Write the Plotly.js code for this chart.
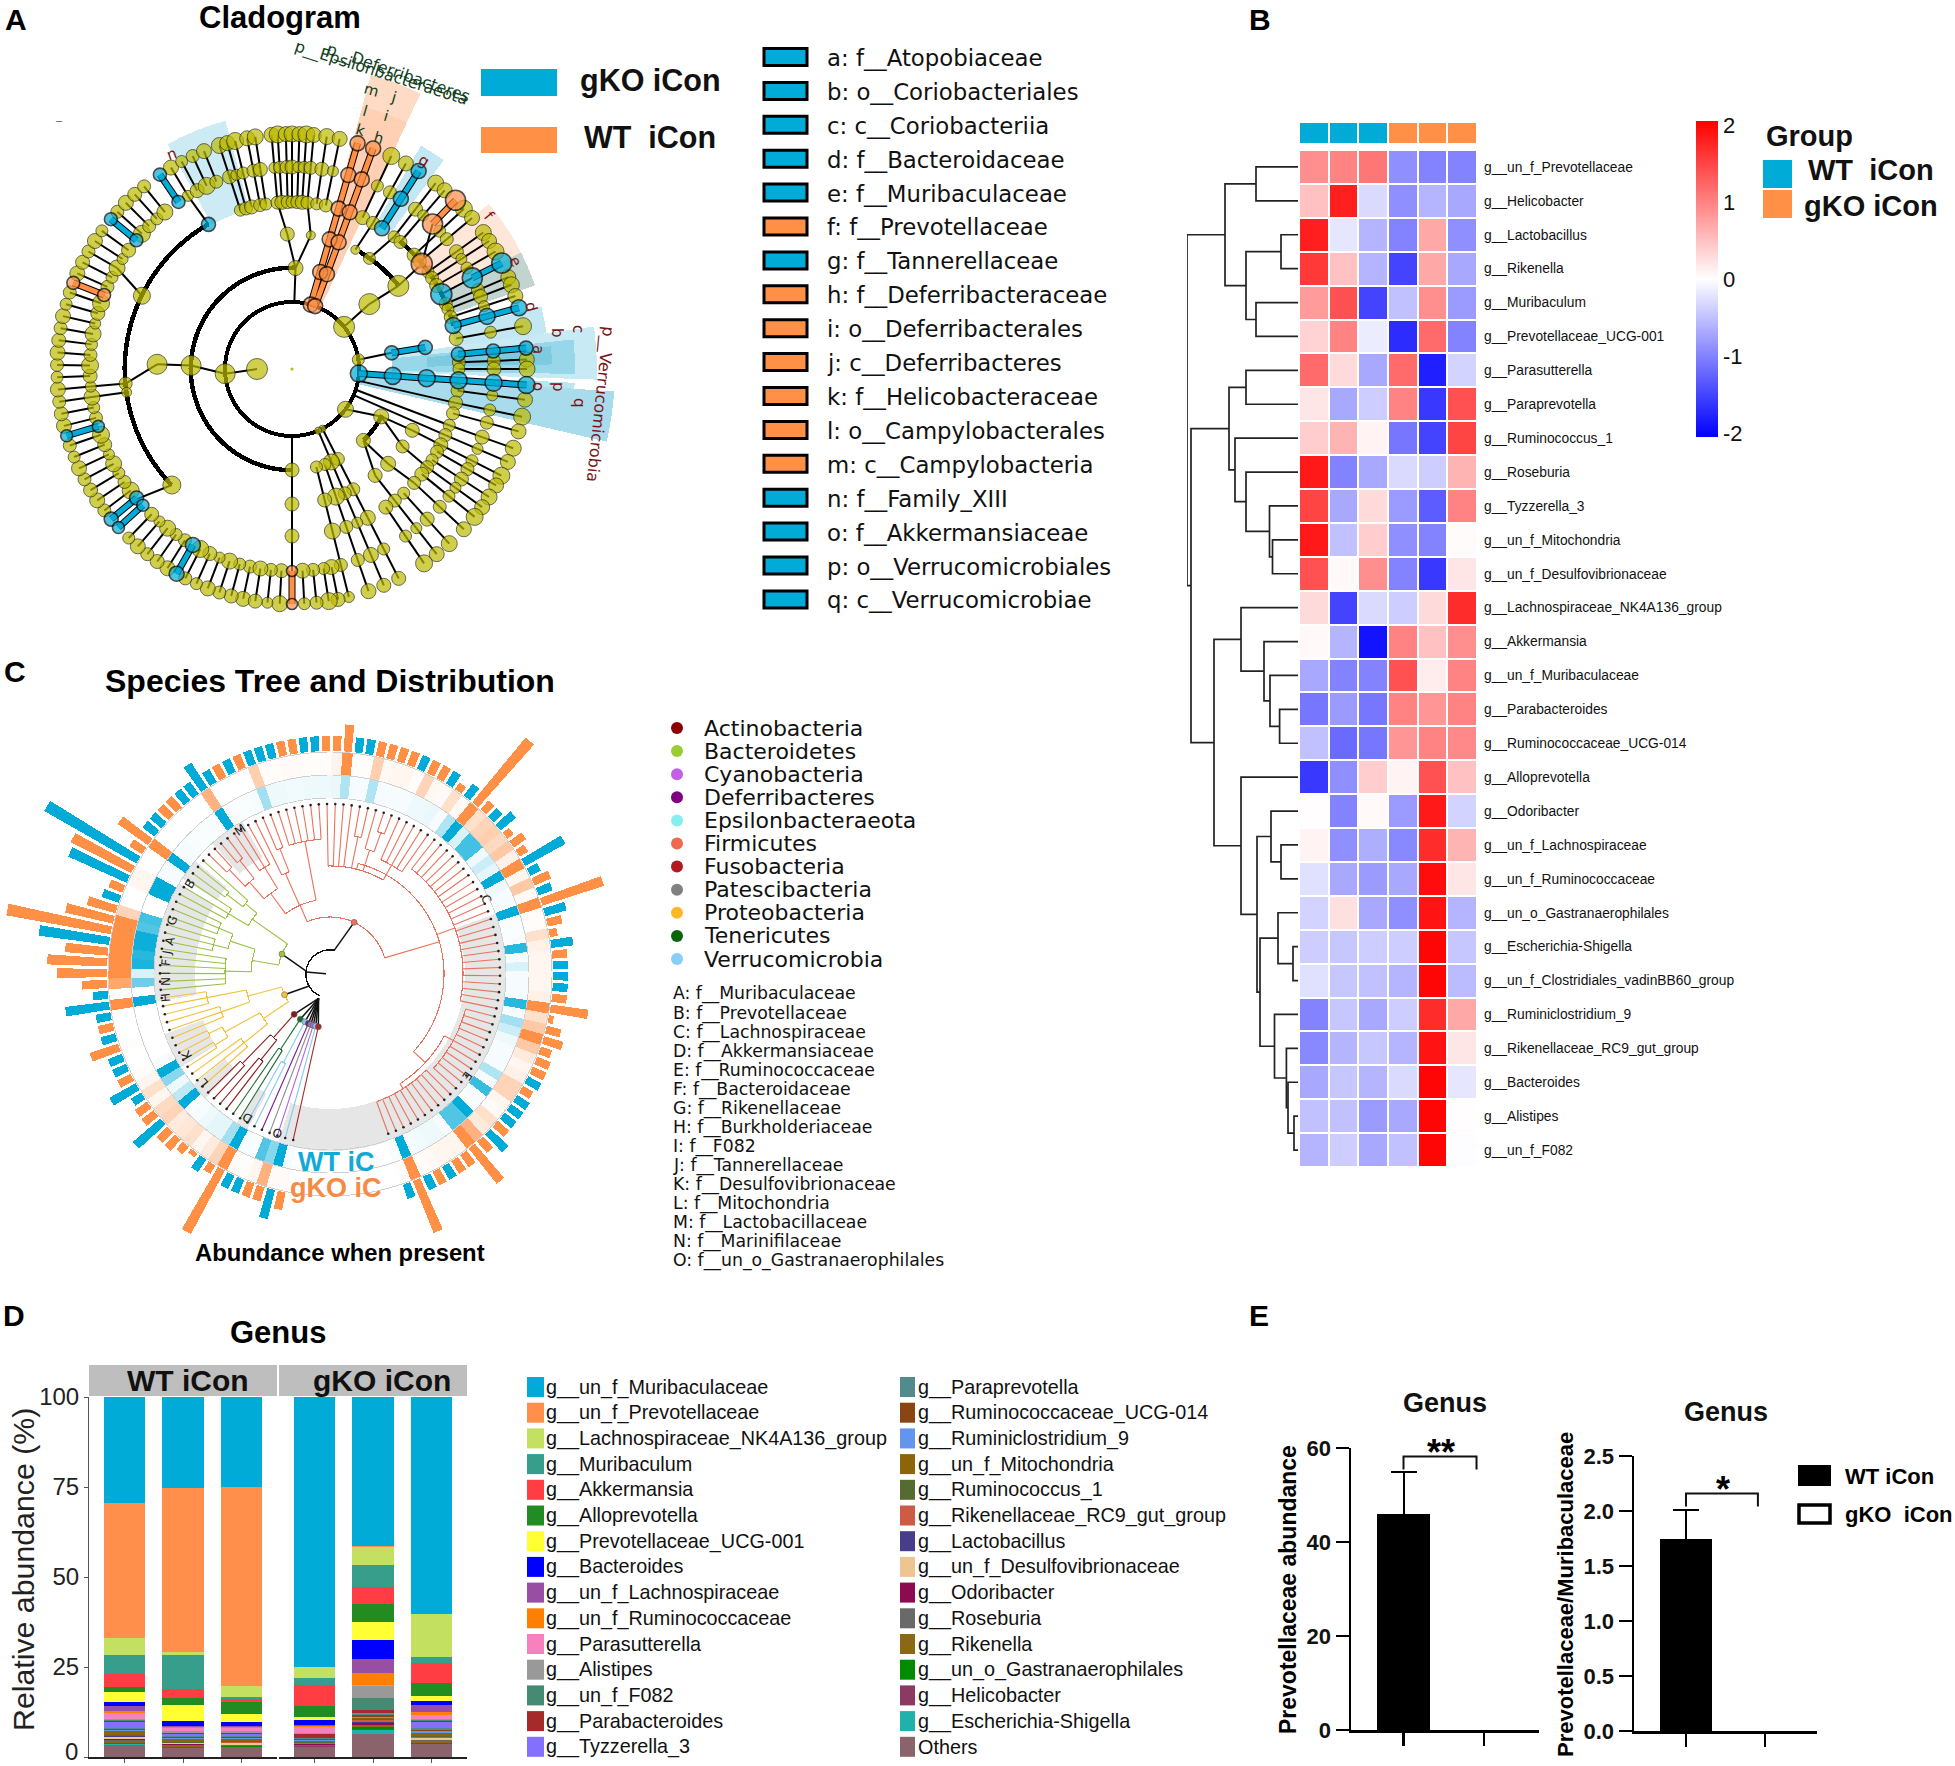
<!DOCTYPE html>
<html><head><meta charset="utf-8">
<script src="https://cdn.plot.ly/plotly-3.0.1.min.js"></script>
<style>html,body{margin:0;padding:0;background:#fff}</style></head>
<body><div id="chart" style="width:1955px;height:1766px"></div>
<script>
const W=1955,H=1766;
const BLUE='#00ABD8',ORANGE='#FF9046',OLIVE='#BDBB00';

/* ---------- Panel A: cladogram ---------- */
const cladoLevels=[35,67,101,135,167,202,235];
const cladoSizePalette=[13,15,12,14,16,13,11,15,14,12,17,13];
const cladoLeftThetas=[192,195,198,201,204,207,212,215,218,221,224,233,236,239,242,245,248,251,256,259,262,265,268,271,274,277,280,283,286,289,294,297,300,303,306,312,315,318,321,329,332,335,338];
const cladoTopThetas=[342,344,346,349,351,355,356.5,358.5,360,361.8,363.5,365.3,368.5,371.7];
const cladoRightThetas=[25,29,37.7,40.5,47,50,54.5,57,60,67,69,71.9,79.5,87.7,90,97.5];
const cladoLowerThetas=[101.7,105.4,109.7,113.3,117,119.7,123,126,129,133,138,142,145.8];
const cladoFanThetas=[153,157,161,166];
const cladoBottomThetas=[168.7,171,174,177,183,186,189];
/* theta, from level, to level, size, group (B blue / O orange) */
const cladoMarked=[[325.8,5,6,13,'B'],[309.6,5,6,13,'B'],[291.5,5,6,13,'O'],[253.5,5,6,12,'B'],[230.3,5,6,14,'B'],[227.6,5,6,12,'B'],[209.4,5,6,15,'B'],[180,5,6,11,'O'],[16.2,1,6,15,'O'],[20.2,1,6,15,'O'],[32.6,4,6,15,'B'],[44.1,5,6,20,'O'],[63.2,5,6,20,'B'],[74.9,4,6,16,'B'],[80.8,2,3,14,'B'],[84.9,4,6,14,'B'],[93.9,1,6,17,'B']];
const cladoMarkedSingles=[[51,4,21,'O'],[63.4,4,21,'B'],[330,4,14,'B']];
/* theta, level, size */
const cladoKeyNodes=[[270,0,21],[266,1,20],[272,2,20],[272,3,20],[265,4,13],[262,4,10],[296,4,17],[226,4,18],[2,2,15],[358,3,14],[8,3,9],[180,2,14],[180,3,14],[180,4,14],[51,1,21],[50,2,21],[52,3,21],[82,1,12],[127,1,16],[153,1,7],[157,1,7],[118,2,15],[135,2,14],[117,3,14],[125,3,13],[134.6,3,15],[142,3,14],[35,3,12],[28,3,9]];
/* theta a, level a, theta b, level b */
const cladoKeyEdges=[[270,0,266,1],[266,1,272,2],[272,2,272,3],[272,3,265,4],[265,4,265,5],[262,4,262,5],[296,4,300,5],[226,4,230,5],[330,4,329,5],[2,1,2,2],[2,2,358,3],[2,2,8,3],[358,3,355,4],[8,3,5.3,4],[180,1,180,2],[180,2,180,3],[180,3,180,4],[180,4,180,5],[51,1,50,2],[50,2,52,3],[52,3,51,4],[51,4,44.1,5],[63.4,4,63.2,5],[82,1,80.8,2],[127,1,118,2],[118,2,117,3],[118,2,125,3],[135,2,134.6,3],[135,2,142,3],[117,3,117,4],[125,3,126,4],[134.6,3,133,4],[142,3,142,4],[153,1,153,2],[157,1,157,2],[35,3,37.7,4],[28,3,29,4],[100,1,101.7,4],[108,1,109.7,4],[113,1,113.3,4]];
/* radius base, thickness, theta start, theta end */
const cladoArcs=[[65,4,0.1,360],[99,4.5,180,362],[165,4.5,226,330],[99,4.5,117,135],[133,4.5,30,52],[165,4.5,40,75]];
/* theta start, theta end, r base, r top, colour */
const cladoSectors=[[331,345,165,257,'rgba(170,222,238,.6)'],[15,25,65,304,'rgba(255,190,150,.55)'],[15,25,65,272,'rgba(255,190,150,.35)'],[30,36,170,258,'rgba(170,222,238,.7)'],[50,71,169,257,'rgba(253,220,200,.7)'],[63,71,165,257,'rgba(120,190,200,.45)'],[76,82,165,257,'rgba(170,222,238,.7)'],[82,92,100,305,'rgba(170,222,238,.65)'],[84,91,100,283,'rgba(120,200,225,.6)'],[85,89,135,260,'rgba(100,190,215,.5)'],[94,103,67,323,'rgba(110,195,222,.6)'],[92.8,94.6,150,283,'rgba(170,222,238,.8)']];

/* ---------- Panel A legend ---------- */
const cladoLegendText=['a: f__Atopobiaceae','b: o__Coriobacteriales','c: c__Coriobacteriia','d: f__Bacteroidaceae','e: f__Muribaculaceae','f: f__Prevotellaceae','g: f__Tannerellaceae','h: f__Deferribacteraceae','i: o__Deferribacterales','j: c__Deferribacteres','k: f__Helicobacteraceae','l: o__Campylobacterales','m: c__Campylobacteria','n: f__Family_XIII','o: f__Akkermansiaceae','p: o__Verrucomicrobiales','q: c__Verrucomicrobiae'];
const cladoLegendGroup=['B','B','B','B','B','O','B','O','O','O','O','O','O','B','B','B','B'];

/* ---------- Panel B: heatmap ---------- */
const hmLabels=['g__un_f_Prevotellaceae','g__Helicobacter','g__Lactobacillus','g__Rikenella','g__Muribaculum','g__Prevotellaceae_UCG-001','g__Parasutterella','g__Paraprevotella','g__Ruminococcus_1','g__Roseburia','g__Tyzzerella_3','g__un_f_Mitochondria','g__un_f_Desulfovibrionaceae','g__Lachnospiraceae_NK4A136_group','g__Akkermansia','g__un_f_Muribaculaceae','g__Parabacteroides','g__Ruminococcaceae_UCG-014','g__Alloprevotella','g__Odoribacter','g__un_f_Lachnospiraceae','g__un_f_Ruminococcaceae','g__un_o_Gastranaerophilales','g__Escherichia-Shigella','g__un_f_Clostridiales_vadinBB60_group','g__Ruminiclostridium_9','g__Rikenellaceae_RC9_gut_group','g__Bacteroides','g__Alistipes','g__un_f_F082'];
const hmValues=[
[0.9,1.0,1.1,-0.9,-1.0,-1.0],[0.5,1.8,-0.3,-0.9,-0.6,-0.7],[1.8,-0.2,-0.6,-1.0,0.7,-0.9],[1.6,0.5,-0.6,-1.5,0.7,-0.7],[0.8,1.4,-1.5,-0.5,0.9,-0.8],[0.35,1.0,-0.15,-1.7,1.2,-1.0],
[1.2,0.3,-0.7,1.2,-1.8,-0.35],[0.2,-0.7,-0.4,1.0,-1.6,1.4],[0.4,0.6,0.1,-1.1,-1.5,1.5],[1.85,-1.0,-0.7,-0.3,-0.4,0.6],[1.5,-0.7,0.3,-0.8,-1.3,1.0],[1.85,-0.5,0.4,-0.9,-1.0,0.03],
[1.4,0.05,0.9,-1.0,-1.6,0.2],[0.3,-1.5,-0.3,-0.4,0.3,1.7],[0.05,-0.6,-1.9,1.0,0.5,0.9],[-0.7,-1.0,-1.0,1.4,0.15,1.0],[-1.1,-0.8,-1.1,1.0,0.85,1.0],[-0.5,-1.2,-1.1,0.85,1.0,0.95],
[-1.6,-0.9,0.4,0.1,1.4,0.5],[0.02,-1.0,0.05,-0.8,1.85,-0.35],[0.1,-0.9,-0.65,-0.95,1.7,0.6],[-0.25,-0.7,-0.8,-0.7,1.95,0.2],[-0.35,0.25,-0.7,-0.9,1.9,-0.6],[-0.4,-0.45,-0.4,-0.4,2,-0.45],
[-0.25,-0.45,-0.5,-0.6,2,-0.55],[-1,-0.45,-0.7,-0.4,1.7,0.7],[-0.95,-0.6,-0.45,-0.6,1.9,0.2],[-0.7,-0.45,-0.6,-0.3,2,-0.2],[-0.5,-0.5,-0.8,-0.7,2,0.02],[-0.6,-0.4,-0.7,-0.5,2,-0.02]];
const hmGroupRow=[0,0,0,1,1,1];
/* dendrogram: [height, child, child]; numbers are row indices */
const dendroTree=[112,
 [74,[43,0,1],[53,[18,2,3],[43,4,5]]],
 [108,
  [70,[53,6,7],[64,8,[53,9,[29.5,10,[26.5,11,12]]]]],
  [85,
   [58,13,[35,14,[29,15,[19.4,16,17]]]],
   [58,18,[42,[28,19,[18,20,21]],[39,[21,22,[6,23,24]],[24.5,25,[12.6,26,[11,27,[5,28,29]]]]]]]]]];

/* ---------- Panel C: species tree ---------- */
const treeBarGroup='OBOOBBOOBOOOOBOOBBOBBOBOBBBOOOOBOOOBOBOBOOBBOOBBBBOBOBBBOOBBOOOBBOOOOBOOBOBOOBBOOOBBOBOBOOBOBBBOOOOOOOOBOBBBOBOOOOBOBOB';
const treeBarLen=[18,30,15,15,15,15,72,10,15,5,10,15,15,36,15,15,12,30,15,15,15,30,15,15,15,44,15,25,50,60,43,71,106,49,30,18,15,64,68,106,15,37,15,15,15,15,15,15,30,15,15,15,15,15,15,15,15,15,15,15,15,15,27,15,15,15,15,15,15,15,15,15,15,8,15,84,12,12,20,8,15,10,46,12,18,15,65,22,15,8,22,15,15,15,15,15,38,5,15,20,12,15,15,15,12,15,15,15,15,25,15,45,15,15,15,15,15,56,15];
const treeHeatWT=[.05,1,.5,.7,.03,.05,1,.4,.15,.15,.1,.05,.03,1,.3,.1,.5,1,.05,0,0,0,0,0,0,1,0,.6,.2,.9,.85,.95,.95,.7,.75,0,0,1,1,.05,.05,1,.05,.05,.03,.03,.03,.03,1,.03,.03,.03,.05,.4,.1,.1,.08,.08,.1,.1,.1,.12,.35,.05,.05,.35,.05,.05,.05,.05,.1,.1,.12,.05,.35,1,.2,.75,.75,.1,.25,.15,1,.1,.05,.05,1,.03,.03,.03,.85,.05,.2,.05,.05,.05,.85,.05,.4,.25,.1,.05,.05,.05,.35,.05,.8,.05,.03,1,.7,.7,.05,.1,.1,.08,.05,1,.05];
const treeHeatKO=[.05,.05,.7,.1,.02,.03,1,.4,.2,.1,.3,.25,.2,.4,.35,.1,.3,.1,.03,0,0,.02,0,0,0,1,0,.8,1,1,1,1,1,1,.4,0,0,.1,.1,0,0,1,0,0,0,0,0,0,.7,0,0,0,0,.45,.03,.03,.05,.05,.03,.03,.03,.12,1,.02,.02,.45,.08,.1,.1,.02,.4,.08,.05,.3,.05,1,.3,.4,.45,.35,.5,.15,1,.1,.5,.05,1,.03,.03,.3,.15,.1,.1,.1,.1,.15,1,.3,.5,1,.5,.2,.1,.15,.4,.4,.1,.05,.3,.2,.7,1,.1,.1,.1,.05,.03,1,.03];
const treeGreyBands=[[70,197],[208,212],[225,231],[238,250],[261,301],[303,310],[318,330]];
const treeLetters=[['M',240,830,-35],['B',190,884,-60],['G',172,921,-70],['A',170,941,-75],['J',167,953,-80],['F',166,963,-85],['I',166,973,-90],['N',166,982,-90],['H',166,998,-95],['K',187,1055,-120],['L',204,1083,-130],['D',248,1118,-150],['O',278,1133,-165],['C',486,899,65],['E',467,1076,125]];
const rg=(a,b)=>{const o=[];for(let i=a;i<=b;i++)o.push(i);return o;};
const phyla=[
 {name:'Firmicutes',color:'#E8735E',rootTheta:10,tree:[57,
   [75,[100,[122,[145,44,45],[145,46,47]],[125,48,49,50]],[110,51,[135,52,53]],[135,...rg(54,59)]],
   [114,[108,60,61,62,63,[140,64,65],[130,66,[150,67,68]],[125,...rg(69,73)]],[133,...rg(74,97)],[130,[140,...rg(98,108)],[136,...rg(109,118)]]]]},
 {name:'Bacteroidetes',color:'#9BC243',rootTheta:277,tree:[52,[79,[105,...rg(26,31)],[105,[120,32,33,34],[120,35,36,37]]],[95,[118,38,39,40],[110,[130,41,42],43]]]},
 {name:'Proteobacteria',color:'#F2C23A',rootTheta:240,tree:[50,[80,[110,13,14,15],[120,[135,16,17],[135,18,19]]],[85,[115,20,21,22],[125,23,24,25]]]},
 {name:'Actinobacteria',color:'#8B1A1A',rootTheta:219,tree:[54,[85,[110,9,10],[125,11,12]]]},
 {name:'Tenericutes',color:'#1E6B2D',rootTheta:212,tree:[54,[90,7,8]]},
 {name:'Epsilonbacteraeota',color:'#83C8EE',rootTheta:207,tree:[54,[100,5,6]]},
 {name:'Deferribacteres',color:'#7A1F8E',rootTheta:204,tree:[54,4]},
 {name:'Patescibacteria',color:'#8A8A8A',rootTheta:200,tree:[54,3]},
 {name:'Cyanobacteria',color:'#B060E0',rootTheta:197,tree:[54,2]},
 {name:'Verrucomicrobia',color:'#83C8EE',rootTheta:194,tree:[54,1]},
 {name:'Fusobacteria',color:'#A52A2A',rootTheta:190,tree:[54,0]}];
const legendPhyla=[['Actinobacteria','#8B0000'],['Bacteroidetes','#9ACD32'],['Cyanobacteria','#C45FE8'],['Deferribacteres','#800080'],['Epsilonbacteraeota','#87EEEE'],['Firmicutes','#F0694E'],['Fusobacteria','#B2181E'],['Patescibacteria','#808080'],['Proteobacteria','#FDB827'],['Tenericutes','#0B640B'],['Verrucomicrobia','#87CEFA']];
const legendFamilies=['A: f__Muribaculaceae','B: f__Prevotellaceae','C: f__Lachnospiraceae','D: f__Akkermansiaceae','E: f__Ruminococcaceae','F: f__Bacteroidaceae','G: f__Rikenellaceae','H: f__Burkholderiaceae','I: f__F082','J: f__Tannerellaceae','K: f__Desulfovibrionaceae','L: f__Mitochondria','M: f__Lactobacillaceae','N: f__Marinifilaceae','O: f__un_o_Gastranaerophilales'];

/* ---------- Panel D: stacked bars ---------- */
const genusNames=['g__un_f_Muribaculaceae','g__un_f_Prevotellaceae','g__Lachnospiraceae_NK4A136_group','g__Muribaculum','g__Akkermansia','g__Alloprevotella','g__Prevotellaceae_UCG-001','g__Bacteroides','g__un_f_Lachnospiraceae','g__un_f_Ruminococcaceae','g__Parasutterella','g__Alistipes','g__un_f_F082','g__Parabacteroides','g__Tyzzerella_3','g__Paraprevotella','g__Ruminococcaceae_UCG-014','g__Ruminiclostridium_9','g__un_f_Mitochondria','g__Ruminococcus_1','g__Rikenellaceae_RC9_gut_group','g__Lactobacillus','g__un_f_Desulfovibrionaceae','g__Odoribacter','g__Roseburia','g__Rikenella','g__un_o_Gastranaerophilales','g__Helicobacter','g__Escherichia-Shigella','Others'];
const genusColors=['#00ABD8','#FF8F4A','#C3E060','#369E8B','#FF3D42','#228B22','#FFFF33','#0000FF','#984EA3','#FF7F00','#F781BF','#999999','#458B74','#A52A2A','#8470FF','#528B8B','#8B4513','#6495ED','#8B6508','#556B2F','#CD5B45','#483D8B','#EEC591','#8B0A50','#696969','#8B6914','#008B00','#8B3A62','#20B2AA','#8B636C'];
const sampleWT1=[29.4,37.6,4.6,5.3,3.7,1.3,2.9,.9,1.4,.7,1.6,.3,.4,.2,1.6,.3,.3,.3,1.1,.2,.2,.2,.5,.2,.3,.5,.2,.2,.2,3.4];
const sampleWT2=[25.2,45.5,1,9.5,2.5,1.9,4.3,1.4,.3,.3,1,.3,.2,.2,.7,.2,.3,.3,.6,.3,.1,.1,.3,.1,.2,.3,.2,.1,.1,2.5];
const sampleWT3=[25,55.2,3.1,.5,1,3.2,2.3,1,.3,.3,1,.3,.2,.2,.7,.2,.3,.3,.5,.3,.1,.1,.5,.1,.1,.2,.1,.1,.1,2.7];
const sampleKO1=[75,.05,3,2,5.9,2.9,.9,1.3,.3,.3,1.7,.2,.1,1,.2,.2,.2,.2,.4,.2,.2,.1,.1,.1,.2,.2,.1,.1,.1,2.75];
const sampleKO2=[41.5,.1,5,6.2,4.7,5,4.9,5.5,3.9,3.3,.2,3.3,3.4,.8,.3,.3,.4,.3,.4,.3,.5,.2,.1,.5,.2,.3,.5,.3,1.2,6.4];
const sampleKO3=[60.3,.05,11.8,1.7,5.7,3.4,1.4,1.3,1.9,.9,1.1,.2,.2,.4,1.6,.5,.3,.6,.8,.3,.2,.1,.5,.1,.4,.4,.1,.1,.1,3.55];
const facetCats=['1','2','3'];
const genusTicks=[0,25,50,75,100];
const genusTickText=['','25','50','75','100'];

/* ---------- Panel E ---------- */
const abundanceMeans=[46,0];
const abundanceErr=[8.8];
const ratioMeans=[1.75,0];
const ratioErr=[.26];

/* ---------- helpers ---------- */
const fx=x=>x/W, fy=y=>1-y/H;
const domX=(a,b)=>[a/W,b/W], domY=(t,b)=>[1-b/H,1-t/H];
const annotations=[],shapes=[];
function note(text,x,y,size,o={}){annotations.push({text,x:fx(x),y:fy(y),xref:'paper',yref:'paper',showarrow:false,xanchor:o.xa||'center',yanchor:'middle',textangle:o.angle||0,
  font:{family:o.family||'Liberation Sans, Arial, sans-serif',size,color:o.color||'#000'},align:'left'});}
function rect(x0,y0,x1,y1,fill,lineColor,lw){shapes.push({type:'rect',xref:'paper',yref:'paper',x0:fx(x0),x1:fx(x1),y0:fy(y0),y1:fy(y1),fillcolor:fill,line:{color:lineColor||fill,width:lw||0}});}
function dot(x,y,d,fill){shapes.push({type:'circle',xref:'paper',yref:'paper',x0:fx(x-d/2),x1:fx(x+d/2),y0:fy(y-d/2),y1:fy(y+d/2),fillcolor:fill,line:{width:0}});}
const traces=[];

/* ---- A: sector highlights on polar (partial sector so they may pass the page edge) ---- */
cladoSectors.forEach(s=>traces.push({type:'barpolar',subplot:'polar',theta:[(s[0]+s[1])/2],width:[s[1]-s[0]],base:[s[2]],r:[s[3]-s[2]],marker:{color:s[4],line:{width:0}},hoverinfo:'skip'}));
/* ---- A: core ---- */
const L=cladoLevels;
cladoArcs.forEach(a=>traces.push({type:'barpolar',subplot:'polar2',theta:[(a[2]+a[3])/2],width:[Math.min(a[3]-a[2],359.9)],base:[a[0]],r:[a[1]],marker:{color:'#000',line:{width:0}},hoverinfo:'skip'}));
const eT=[],eR=[],nT=[],nR=[],nS=[];
function addEdge(t1,r1,t2,r2,tArr,rArr){tArr.push(t1,t2,null);rArr.push(r1,r2,null);}
let palIdx=0;
function addChain(t,from,to){for(let l=from;l<=to;l++){if(l<to)addEdge(t,L[l],t,L[l+1],eT,eR);nT.push(t);nR.push(L[l]);nS.push(cladoSizePalette[palIdx++%cladoSizePalette.length]);}}
cladoLeftThetas.forEach(t=>addChain(t,5,6));
cladoTopThetas.forEach(t=>addChain(t,4,6));
cladoRightThetas.forEach(t=>addChain(t,4,6));
cladoLowerThetas.forEach(t=>addChain(t,4,6));
cladoFanThetas.forEach(t=>addChain(t,2,6));
cladoBottomThetas.forEach(t=>addChain(t,5,6));
cladoKeyEdges.forEach(e=>addEdge(e[0],L[e[1]],e[2],L[e[3]],eT,eR));
cladoKeyNodes.forEach(n=>{nT.push(n[0]);nR.push(L[n[1]]);nS.push(n[2]);});
traces.push({type:'scatterpolar',subplot:'polar2',mode:'lines',theta:eT,r:eR,line:{color:'#000',width:2},hoverinfo:'skip'});
traces.push({type:'scatterpolar',subplot:'polar2',mode:'markers',theta:nT,r:nR,marker:{color:OLIVE,size:nS,line:{color:'#2a2a00',width:1}},hoverinfo:'skip'});
['B','O'].forEach(g=>{
  const col=g==='B'?BLUE:ORANGE,tE=[],rE=[],tN=[],rN=[],sN=[];
  cladoMarked.filter(c=>c[4]===g).forEach(c=>{for(let l=c[1];l<=c[2];l++){if(l<c[2])addEdge(c[0],L[l],c[0],L[l+1],tE,rE);tN.push(c[0]);rN.push(L[l]);sN.push(c[3]);}});
  cladoMarkedSingles.filter(c=>c[3]===g).forEach(c=>{tN.push(c[0]);rN.push(L[c[1]]);sN.push(c[2]);});
  traces.push({type:'scatterpolar',subplot:'polar2',mode:'lines',theta:tE,r:rE,line:{color:'#000',width:7},hoverinfo:'skip'});
  traces.push({type:'scatterpolar',subplot:'polar2',mode:'lines',theta:tE,r:rE,line:{color:col,width:5},hoverinfo:'skip'});
  traces.push({type:'scatterpolar',subplot:'polar2',mode:'markers',theta:tN,r:rN,marker:{color:col,size:sN,line:{color:'#000',width:1.6}},hoverinfo:'skip'});
});
traces.push({type:'scatterpolar',subplot:'polar2',mode:'markers',theta:[0],r:[0],marker:{color:OLIVE,size:3},hoverinfo:'skip'});

note('<b>Cladogram</b>',280,18,31);
note('<b>A</b>',16,20,30);
rect(481,69,557,96,BLUE);rect(481,127,557,153,ORANGE);
note('<b>gKO iCon</b>',578,81,30.5,{xa:'left',color:'#111'});
note('<b>WT  iCon</b>',582,137,30.5,{xa:'left',color:'#111'});
cladoLegendText.forEach((t,i)=>{const y=57+33.9*i;
  rect(764,y-8.5,807,y+8.5,cladoLegendGroup[i]==='B'?BLUE:ORANGE,'#000',3);
  note(t,825,y+1,22.8,{xa:'left',family:'DejaVu Sans',color:'#111'});});
const darkG='#123f1c',darkR='#7a1414';
note('p__Epsilonbacteraeota',381,73,16,{angle:17.5,family:'DejaVu Sans',color:darkG});
note('p__Deferribacteres',398,73,16,{angle:19,family:'DejaVu Sans',color:darkG});
note('p__Verrucomicrobia',600,404,16,{angle:96,family:'DejaVu Sans',color:darkR});
[['m',371,90,16],['j',393,97,16],['l',365,111,16],['i',386,116,16],['k',360,130,16],['h',379,138,16]].forEach(a=>note(a[0],a[1],a[2],15,{angle:a[3],family:'DejaVu Sans',color:darkG}));
[['g',424,161,30],['f',489,216,50],['e',515,261,60],['d',531,307,75],['c',578,329,90],['b',557,333,90],['a',538,349,90],['o',538,386,90],['p',558,387,90],['q',579,403,90],['n',172,154,-20]].forEach(a=>note(a[0],a[1],a[2],15,{angle:a[3],family:'DejaVu Sans',color:darkR}));
note('–',59,120,11,{color:'#555'});

/* ---- B ---- */
traces.push({type:'heatmap',xaxis:'x',yaxis:'y',z:hmValues,zmin:-2.05,zmax:2.05,xgap:2,ygap:2,colorscale:[[0,'#0000FF'],[.5,'#FFFFFF'],[1,'#FF0000']],hoverinfo:'skip',
  colorbar:{x:fx(1696),xanchor:'left',xpad:0,y:fy(121),yanchor:'top',ypad:0,len:316,lenmode:'pixels',thickness:22,thicknessmode:'pixels',outlinewidth:0,ticks:'',tickvals:[2,1,0,-1,-2],ticktext:['2','1','0','-1','-2'],tickfont:{family:'Liberation Sans',size:22,color:'#111'},ticklabelposition:'outside'}});
traces.push({type:'heatmap',xaxis:'x2',yaxis:'y2',z:[hmGroupRow],zmin:0,zmax:1,xgap:2,showscale:false,colorscale:[[0,BLUE],[1,ORANGE]],hoverinfo:'skip'});
const dX=[],dY=[];
function walkDendro(n){ if(typeof n==='number')return{h:1,y:n};
  const a=walkDendro(n[1]),b=walkDendro(n[2]),h=n[0];
  dX.push(a.h,h,h,b.h,null);dY.push(a.y,a.y,b.y,b.y,null);
  return{h,y:(a.y+b.y)/2};}
walkDendro(dendroTree);
traces.push({type:'scatter',xaxis:'x3',yaxis:'y',mode:'lines',x:dX,y:dY,line:{color:'#222',width:1.7},hoverinfo:'skip'});
note('<b>Group</b>',1764,136,29,{xa:'left',color:'#111'});
rect(1763,160,1792,188,BLUE);rect(1763,190,1792,218,ORANGE);
note('<b>WT  iCon</b>',1806,170,29,{xa:'left',color:'#111'});
note('<b>gKO iCon</b>',1802,206,29,{xa:'left',color:'#111'});
note('<b>B</b>',1260,20,30);

/* ---- C ---- */
const tipTheta=i=>192.5+2.775*i;
const tipR=170;
const TR={a:176,b:199,c:222};
traces.push({type:'barpolar',subplot:'polar3',theta:treeGreyBands.map(b=>(b[0]+b[1])/2),width:treeGreyBands.map(b=>b[1]-b[0]),base:treeGreyBands.map(()=>135),r:treeGreyBands.map(()=>42),marker:{color:'#E6E6E6',line:{width:0}},hoverinfo:'skip'});
const allTipTheta=rg(0,118).map(tipTheta);
const heatW=allTipTheta.map(()=>2.775);
traces.push({type:'barpolar',subplot:'polar3',theta:allTipTheta,width:heatW,base:allTipTheta.map(()=>TR.a),r:allTipTheta.map(()=>TR.b-TR.a),marker:{color:treeHeatWT,cmin:0,cmax:1,colorscale:[[0,'#FFFFFF'],[.15,'#E5F6FB'],[1,BLUE]],showscale:false,line:{width:0}},hoverinfo:'skip'});
traces.push({type:'barpolar',subplot:'polar3',theta:allTipTheta,width:heatW,base:allTipTheta.map(()=>TR.b),r:allTipTheta.map(()=>TR.c-TR.b),marker:{color:treeHeatKO,cmin:0,cmax:1,colorscale:[[0,'#FFFFFF'],[.15,'#FFF1E8'],[1,ORANGE]],showscale:false,line:{width:0}},hoverinfo:'skip'});
[TR.a,TR.b,TR.c].forEach(r=>traces.push({type:'barpolar',subplot:'polar3',theta:[180],width:[359.9],base:[r-.4],r:[.9],marker:{color:'#CFCFCF',line:{width:0}},hoverinfo:'skip'}));
traces.push({type:'barpolar',subplot:'polar3',theta:allTipTheta,width:allTipTheta.map(()=>2.05),base:allTipTheta.map(()=>TR.c+1),r:treeBarLen,marker:{color:treeBarGroup.split('').map(c=>c==='B'?BLUE:ORANGE),line:{width:0}},hoverinfo:'skip'});
/* tree */
phyla.forEach(p=>{
  const tL=[],rL=[],aT=[],aW=[],aB=[];
  function walk(n){ if(typeof n==='number')return{th:tipTheta(n),r:tipR};
    const r=n[0],kids=n.slice(1).map(walk),a=kids[0].th,b=kids[kids.length-1].th,th=(a+b)/2;
    kids.forEach(k=>{tL.push(k.th,k.th,null);rL.push(r,k.r,null);});
    if(b-a>0.01){aT.push(th);aW.push(b-a);aB.push(r-.5);}
    return{th,r};}
  const root=walk(p.tree);
  traces.push({type:'barpolar',subplot:'polar3',theta:aT,width:aW,base:aB,r:aT.map(()=>1.1),marker:{color:p.color,line:{width:0}},hoverinfo:'skip'});
  traces.push({type:'scatterpolar',subplot:'polar3',mode:'lines',theta:tL,r:rL,line:{color:p.color,width:1.1},hoverinfo:'skip'});
  const startR=p.rootTheta>185&&p.rootTheta<225?27:24;
  const startTheta=p.rootTheta>185&&p.rootTheta<225?205:p.rootTheta;
  traces.push({type:'scatterpolar',subplot:'polar3',mode:'lines',theta:[startTheta,root.th],r:[startR,root.r],line:{color:'#111',width:1.5},hoverinfo:'skip'});
  traces.push({type:'scatterpolar',subplot:'polar3',mode:'markers',theta:[root.th],r:[root.r],marker:{color:p.color,size:6,line:{color:'#555',width:.5}},hoverinfo:'skip'});
});
traces.push({type:'barpolar',subplot:'polar3',theta:[(205+372)/2],width:[167],base:[23.5],r:[1.4],marker:{color:'#111',line:{width:0}},hoverinfo:'skip'});
traces.push({type:'scatterpolar',subplot:'polar3',mode:'lines',theta:[275,275],r:[4,24],line:{color:'#111',width:1.5},hoverinfo:'skip'});
traces.push({type:'scatterpolar',subplot:'polar3',mode:'markers',theta:allTipTheta,r:allTipTheta.map(()=>tipR),marker:{color:'#222',size:2.6},hoverinfo:'skip'});

treeLetters.forEach(l=>note(l[0],l[1],l[2],12,{angle:l[3],family:'DejaVu Sans',color:'#222'}));
note('<b>C</b>',15,671,30);
note('<b>Species Tree and Distribution</b>',330,681,32);
note('<b>WT iC</b>',336,1162,27,{color:'#12A9D6'});
note('<b>gKO iC</b>',336,1188,27,{color:'#F58B45'});
note('<b>Abundance when present</b>',340,1252,23.8);
legendPhyla.forEach((p,i)=>{const y=728+23.1*i;dot(677,y,12,p[1]);note(p[0],702,y,22,{xa:'left',family:'DejaVu Sans',color:'#111'});});
legendFamilies.forEach((t,i)=>note(t,671,994+19*i,17.3,{xa:'left',family:'DejaVu Sans',color:'#111'}));

/* ---- D ---- */
[[ [sampleWT1,sampleWT2,sampleWT3],'x4'],[[sampleKO1,sampleKO2,sampleKO3],'x5']].forEach(f=>{
  for(let s=genusNames.length-1;s>=0;s--){
    traces.push({type:'bar',xaxis:f[1],yaxis:'y4',x:facetCats,y:f[0].map(a=>a[s]),width:.7,marker:{color:genusColors[s],line:{width:0}},name:genusNames[s],hoverinfo:'skip'});
  }});
rect(89,1365,277,1396,'#BEBEBE');rect(279,1365,467,1396,'#BEBEBE');
note('<b>D</b>',14,1315,30);
note('<b>Genus</b>',278,1332,31);
note('<b>WT iCon</b>',188,1380,30,{color:'#111'});
note('<b>gKO iCon</b>',382,1380,30,{color:'#111'});
note('Relative abundance (%)',23,1570,30.3,{angle:-90,color:'#222'});
note('0',71,1751,24,{color:'#222'});
genusNames.forEach((n,i)=>{const col=i<15?0:1,row=i<15?i:i-15,y=1387+25.7*row;
  rect(col?900:527,y-10,col?915:544,y+10,genusColors[i]);
  note(n,col?916:544,y,19.8,{xa:'left',family:'Liberation Sans',color:'#111'});});

/* ---- E ---- */
traces.push({type:'bar',xaxis:'x6',yaxis:'y6',x:[0],y:[abundanceMeans[0]],width:.66,marker:{color:'#000'},error_y:{type:'data',array:abundanceErr,symmetric:true,color:'#000',thickness:2,width:13},hoverinfo:'skip'});
traces.push({type:'bar',xaxis:'x6',yaxis:'y6',x:[1],y:[abundanceMeans[1]],width:.66,marker:{color:'#000'},hoverinfo:'skip'});
traces.push({type:'scatter',xaxis:'x6',yaxis:'y6',mode:'lines',x:[0,0,.907,.907],y:[55.4,58.2,58.2,55.4],line:{color:'#111',width:2},hoverinfo:'skip'});
traces.push({type:'bar',xaxis:'x7',yaxis:'y7',x:[0],y:[ratioMeans[0]],width:.66,marker:{color:'#000'},error_y:{type:'data',array:ratioErr,symmetric:true,color:'#000',thickness:2,width:13},hoverinfo:'skip'});
traces.push({type:'bar',xaxis:'x7',yaxis:'y7',x:[1],y:[ratioMeans[1]],width:.66,marker:{color:'#000'},hoverinfo:'skip'});
traces.push({type:'scatter',xaxis:'x7',yaxis:'y7',mode:'lines',x:[0,0,.91,.91],y:[2.04,2.16,2.16,2.04],line:{color:'#111',width:2},hoverinfo:'skip'});
note('<b>E</b>',1259,1315,30);
note('<b>Genus</b>',1445,1403,27,{color:'#111'});
note('<b>Genus</b>',1726,1412,27,{color:'#111'});
note('<b>Prevotellaceae abundance</b>',1288,1590,23,{angle:-90});
note('<b>Prevotellaceae/Muribaculaceae</b>',1565,1595,22,{angle:-90});
note('<b>**</b>',1441,1452,36);
note('<b>*</b>',1723,1489,36);
rect(1799,1466,1830,1485,'#000','#000',2);
rect(1799,1505,1830,1523,'#fff','#000',3.5);
note('<b>WT iCon</b>',1843,1476,22,{xa:'left'});
note('<b>gKO  iCon</b>',1843,1514,22,{xa:'left'});

const polarCommon={bgcolor:'rgba(0,0,0,0)',barmode:'overlay',bargap:0};
const angular={visible:false,direction:'clockwise',rotation:90,thetaunit:'degrees'};
const eXAxis=(dom,range,anchor)=>({domain:domX(...dom),range,anchor,showgrid:false,zeroline:false,showline:true,linecolor:'#000',linewidth:2.5,ticks:'outside',ticklen:13,tickwidth:2.5,tickcolor:'#000',tickvals:[0,1],ticktext:['',''],fixedrange:true});
const eYAxis=(dom,range,anchor,vals,fmt)=>({domain:domY(...dom),range,anchor,showgrid:false,zeroline:false,showline:true,linecolor:'#000',linewidth:2.5,ticks:'outside',ticklen:13,tickwidth:2.5,tickcolor:'#000',tickvals:vals,tickformat:fmt,tickfont:{family:'Liberation Sans',size:22,color:'#111',weight:700},fixedrange:true});

const layout={width:W,height:H,margin:{l:0,r:0,t:0,b:0,pad:0},paper_bgcolor:'#fff',plot_bgcolor:'rgba(0,0,0,0)',showlegend:false,barmode:'stack',bargap:0,annotations,shapes,
 polar:Object.assign({},polarCommon,{domain:{x:domX(127,622),y:domY(39,699)},sector:[-90,120],radialaxis:{visible:false,range:[0,330]},angularaxis:angular}),
 polar2:Object.assign({},polarCommon,{domain:{x:domX(0,584),y:domY(77,661)},radialaxis:{visible:false,range:[0,292]},angularaxis:angular}),
 polar3:Object.assign({},polarCommon,{domain:{x:domX(0,660),y:domY(644,1304)},radialaxis:{visible:false,range:[0,330]},angularaxis:angular}),
 xaxis:{domain:domX(1299,1477),range:[-.5,5.5],visible:false,anchor:'y',fixedrange:true},
 yaxis:{domain:domY(150,1167),range:[29.5,-.5],anchor:'x',side:'right',showgrid:false,zeroline:false,showline:false,ticks:'',tickvals:hmLabels.map((_,i)=>i),ticktext:hmLabels,ticklabelstandoff:6,tickfont:{family:'Liberation Sans',size:13.8,color:'#111'},automargin:false,fixedrange:true},
 xaxis2:{domain:domX(1299,1477),range:[-.5,5.5],visible:false,anchor:'y2',fixedrange:true},
 yaxis2:{domain:domY(123,143),range:[-.5,.5],visible:false,anchor:'x2',fixedrange:true},
 xaxis3:{domain:domX(1187,1299),range:[112,0],visible:false,anchor:'y',fixedrange:true},
 xaxis4:{domain:domX(89,277),range:[-.6,2.6],type:'category',anchor:'y4',showgrid:false,zeroline:false,showline:true,linecolor:'#222',linewidth:2,ticks:'outside',ticklen:4,tickcolor:'#555',showticklabels:false,fixedrange:true},
 xaxis5:{domain:domX(279,467),range:[-.6,2.6],type:'category',anchor:'y4',showgrid:false,zeroline:false,showline:true,linecolor:'#222',linewidth:2,ticks:'outside',ticklen:4,tickcolor:'#555',showticklabels:false,fixedrange:true},
 yaxis4:{domain:domY(1397,1757),range:[0,100],anchor:'x4',showgrid:false,zeroline:false,showline:true,linecolor:'#555',linewidth:1,ticks:'outside',ticklen:4,tickcolor:'#555',tickvals:genusTicks,ticktext:genusTickText,tickfont:{family:'Liberation Sans',size:24,color:'#222'},fixedrange:true},
 xaxis6:eXAxis([1351,1539],[-.652,1.683],'y6'),
 yaxis6:eYAxis([1448,1730],[0,60],'x6',[0,20,40,60]),
 xaxis7:eXAxis([1634,1817],[-.658,1.658],'y7'),
 yaxis7:eYAxis([1456,1731],[0,2.5],'x7',[0,.5,1,1.5,2,2.5],'.1f')
};
Plotly.newPlot('chart',traces,layout,{staticPlot:true,displayModeBar:false});
</script></body></html>
